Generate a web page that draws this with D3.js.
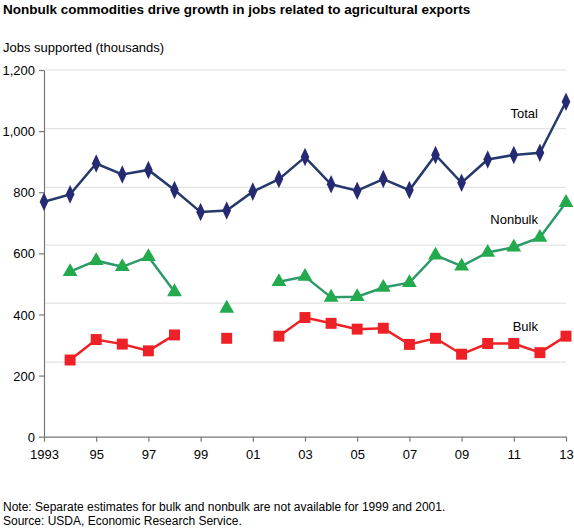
<!DOCTYPE html>
<html><head><meta charset="utf-8">
<script src="https://cdn.jsdelivr.net/npm/d3@7"></script>
<style>body{margin:0;background:#fff;font-family:"Liberation Sans",Arial,sans-serif;}</style>
</head><body><div id="chart"></div>
<script>
var years = d3.range(1993, 2014);
var total = [769, 793, 894, 858, 873, 807, 735, 740, 802, 843, 915, 826, 805, 843, 807, 922, 831, 907, 922, 929, 1096];
var nonbulk = [null, 540, 576, 556, 589, 474, null, 420, null, 507, 524, 456, 458, 488, 504, 594, 558, 603, 620, 652, 766];
var bulk = [null, 251, 318, 303, 281, 333, null, 322, null, 329, 390, 371, 352, 355, 302, 322, 270, 305, 305, 275, 329];
var yTicks = [0, 200, 400, 600, 800, 1000, 1200];
var gridValues = [244, 437, 627, 816, 1008, 1200];
var xTickLabels = ["1993", "95", "97", "99", "01", "03", "05", "07", "09", "11", "13"];

var svg = d3.select("#chart").append("svg").attr("width", 574).attr("height", 529);

var x = d3.scaleLinear().domain([1993, 2013]).range([44, 566]);
var y = d3.scaleLinear().domain([0, 1200]).range([436.7, 70]);

svg.append("text").attr("x", 3).attr("y", 14).style("font-size", "13.5px").style("font-weight", "bold")
  .text("Nonbulk commodities drive growth in jobs related to agricultural exports");
svg.append("text").attr("x", 3).attr("y", 52).style("font-size", "13px")
  .text("Jobs supported (thousands)");

svg.selectAll(".grid").data(gridValues).enter().append("line")
  .attr("x1", 44).attr("x2", 566)
  .attr("y1", (d) => y(d)).attr("y2", (d) => y(d))
  .attr("stroke", "#ddd").attr("stroke-width", 1);

var yAxis = svg.append("g").attr("transform", "translate(44,0)")
  .call(d3.axisLeft(y).tickValues(yTicks).tickFormat(d3.format(",")).tickSizeInner(5).tickPadding(4).tickSizeOuter(0));
var xAxis = svg.append("g").attr("transform", "translate(0," + y(0) + ")")
  .call(d3.axisBottom(x).tickValues(d3.range(1993, 2014, 2)).tickFormat((d, i) => xTickLabels[i]).tickSizeInner(5).tickSizeOuter(0));
[yAxis, xAxis].forEach(function (g) {
  g.selectAll("path,line").attr("stroke", "#777").attr("stroke-width", 1.2);
  g.selectAll("text").style("font-size", "13px").attr("fill", "#000").style("font-family", "Liberation Sans, Arial, sans-serif");
});
xAxis.selectAll("text").attr("dy", "1.1em");
yAxis.selectAll("text").attr("dy", "0.35em");

function series(vals, lineColor, markColor, shape, size) {
  var pts = years.map((yr, i) => ({ yr: yr, v: vals[i] }));
  var line = d3.line().defined((d) => d.v != null).x((d) => x(d.yr)).y((d) => y(d.v));
  svg.append("path").datum(pts).attr("fill", "none").attr("stroke", lineColor)
    .attr("stroke-width", 2.5).attr("d", line);
  svg.selectAll(null).data(pts.filter((d) => d.v != null)).enter().append("path")
    .attr("d", d3.symbol().type(shape).size(size))
    .attr("transform", (d) => "translate(" + x(d.yr) + "," + y(d.v) + ")" + (shape === d3.symbolDiamond ? " scale(0.85,1.05)" : ""))
    .attr("fill", markColor);
}
series(total, "#253a6b", "#252a72", d3.symbolDiamond, 90);
series(nonbulk, "#2e9a6a", "#22aa4c", d3.symbolTriangle, 95);
series(bulk, "#ee2226", "#ee2226", d3.symbolSquare, 120);

var labels = [["Total", 538, 118], ["Nonbulk", 538, 224], ["Bulk", 538, 331]];
svg.selectAll(null).data(labels).enter().append("text")
  .attr("x", (d) => d[1]).attr("y", (d) => d[2]).attr("text-anchor", "end")
  .style("font-size", "13px").text((d) => d[0]);

svg.append("text").attr("x", 3).attr("y", 511).style("font-size", "12px")
  .text("Note: Separate estimates for bulk and nonbulk are not available for 1999 and 2001.");
svg.append("text").attr("x", 3).attr("y", 525).style("font-size", "12px")
  .text("Source: USDA, Economic Research Service.");
</script></body></html>
